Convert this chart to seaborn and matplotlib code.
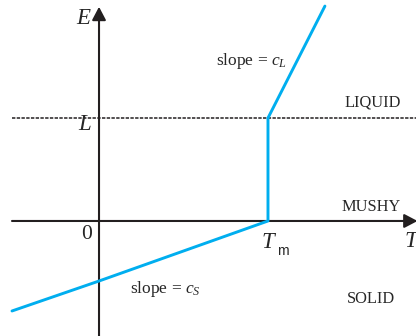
import numpy as np
import pandas as pd
import seaborn as sns
import matplotlib
matplotlib.use("Agg")
import matplotlib.pyplot as plt
from matplotlib.patches import ArrowStyle

# ---- data (T in units of Tm, E in units of L) ----
melt_T = 1.0          # T_m
latent_L = 1.0        # L
curve_T = [-0.515, 0.0, 1.0, 1.0, 1.337]
curve_E = [-0.874, -0.583, 0.0, 1.0, 2.087]
axis_T_range = [-0.515, 1.885]
axis_E_range = [-1.2, 2.08]
region_labels = ["LIQUID", "MUSHY", "SOLID"]

sns.set_theme(style="white")
plt.rcParams["font.family"] = ["Liberation Serif", "DejaVu Serif"]
plt.rcParams["mathtext.fontset"] = "custom"
plt.rcParams["mathtext.rm"] = "Liberation Serif"
plt.rcParams["mathtext.it"] = "Liberation Serif:italic"

fig = plt.figure(figsize=(4.16, 3.36), dpi=100)
ax = fig.add_axes([0, 0, 1, 1])
ax.set_xlim(-0.586, 1.876)
ax.set_ylim(-1.117, 2.146)
ax.axis("off")

dark = "#231f20"
blue = "#00aeef"

# dashed latent-heat level
ax.hlines(latent_L, axis_T_range[0], 1.9, colors=dark, linewidth=1.1,
          linestyles=(0, (2.2, 0.9)), zorder=1)

# axes arrows
style = ArrowStyle("-|>", head_length=0.8, head_width=0.42)
ax.annotate("", xy=(axis_T_range[1], 0), xytext=(axis_T_range[0], 0),
            arrowprops=dict(arrowstyle=style, color=dark, lw=1.5,
                            mutation_scale=10, shrinkA=0, shrinkB=0),
            annotation_clip=False, zorder=2)
ax.annotate("", xy=(0, axis_E_range[1]), xytext=(0, axis_E_range[0]),
            arrowprops=dict(arrowstyle=style, color=dark, lw=1.5,
                            mutation_scale=10, shrinkA=0, shrinkB=0),
            annotation_clip=False, zorder=2)

# enthalpy curve
df = pd.DataFrame({"T": curve_T, "E": curve_E})
sns.lineplot(data=df, x="T", y="E", sort=False, estimator=None,
             color=blue, linewidth=2.1, ax=ax, zorder=3)
ax.axis("off")

big = 16.5
ax.text(-0.095, 1.913, "E", fontsize=big, style="italic", ha="center", va="baseline")
ax.text(-0.083, 0.883, "L", fontsize=big, style="italic", ha="center", va="baseline")
ax.text(-0.071, -0.175, "0", fontsize=big - 1, ha="center", va="baseline")
ax.text(1.0, -0.265, "T", fontsize=big, style="italic", ha="center", va="baseline")
ax.text(1.052, -0.33, "m", fontsize=10, family="Liberation Sans", ha="left", va="baseline")
ax.text(1.805, -0.255, "T", fontsize=big, style="italic", ha="left", va="baseline")

mid = 12.5
ax.text(0.692, 1.515, r"slope = $c_L$", fontsize=mid, ha="left", va="baseline")
ax.text(0.183, -0.699, r"slope = $c_S$", fontsize=mid, ha="left", va="baseline")

small = 11.8
ax.text(1.621, 1.107, region_labels[0], fontsize=small, ha="center", va="baseline")
ax.text(1.609, 0.097, region_labels[1], fontsize=small, ha="center", va="baseline")
ax.text(1.612, -0.796, region_labels[2], fontsize=small, ha="center", va="baseline")

fig.savefig("out.png", dpi=100)
